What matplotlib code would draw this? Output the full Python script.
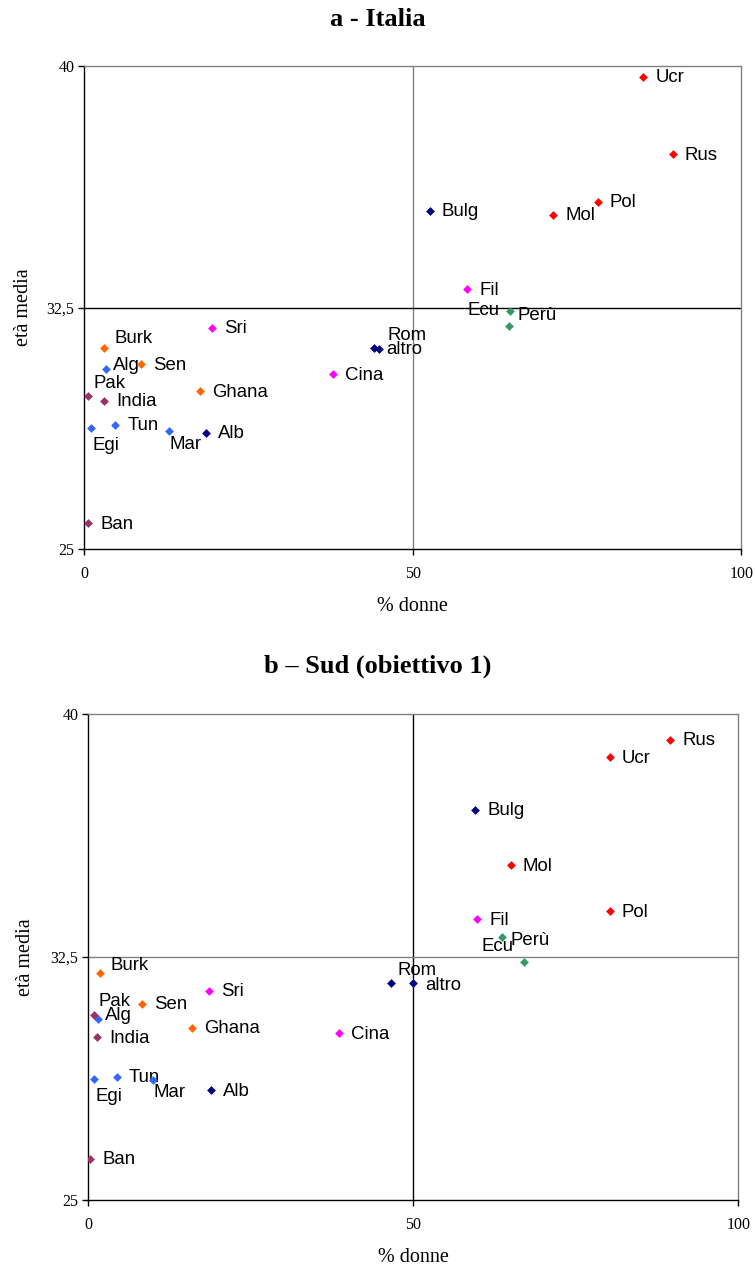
import matplotlib
matplotlib.use("Agg")
import matplotlib.pyplot as plt
from matplotlib.ticker import FixedLocator, FixedFormatter

# colour per area of origin
palette = {
    "est": "#FF0000",
    "balc": "#000080",
    "asia": "#FF00FF",
    "lat": "#339966",
    "afr_occ": "#FF6600",
    "maghreb": "#3366FF",
    "sub": "#993366",
}

# a - Italia
names_a = ["Ucr", "Rus", "Pol", "Mol", "Bulg", "Fil", "Perù", "Ecu", "Rom", "altro",
           "Cina", "Sri", "Burk", "Alg", "Sen", "Pak", "India", "Ghana", "Tun", "Egi",
           "Mar", "Alb", "Ban"]
donne_a = [85.1, 89.6, 78.2, 71.4, 52.6, 58.3, 64.8, 64.6, 44.1, 44.9,
           37.8, 19.5, 3.0, 3.3, 8.7, 0.6, 3.0, 17.6, 4.7, 1.0,
           12.9, 18.5, 0.6]
eta_a = [39.68, 37.27, 35.79, 35.39, 35.51, 33.07, 32.40, 31.92, 31.26, 31.21,
         30.43, 31.87, 31.25, 30.59, 30.75, 29.77, 29.61, 29.90, 28.87, 28.76,
         28.67, 28.62, 25.81]

# b - Sud (obiettivo 1)
names_b = ["Rus", "Ucr", "Bulg", "Mol", "Pol", "Fil", "Perù", "Ecu", "Rom", "altro",
           "Cina", "Sri", "Burk", "Alg", "Sen", "Pak", "India", "Ghana", "Tun", "Egi",
           "Mar", "Alb", "Ban"]
donne_b = [89.5, 80.2, 59.5, 65.0, 80.2, 59.8, 63.6, 67.0, 46.5, 50.0,
           38.6, 18.6, 1.8, 1.5, 8.2, 0.8, 1.4, 16.0, 4.4, 0.8,
           10.0, 18.8, 0.3]
eta_b = [39.20, 38.67, 37.05, 35.33, 33.91, 33.66, 33.12, 32.34, 31.70, 31.69,
         30.14, 31.45, 32.00, 30.59, 31.05, 30.71, 30.02, 30.32, 28.81, 28.72,
         28.71, 28.39, 26.27]

group = {
    "Ucr": "est", "Rus": "est", "Pol": "est", "Mol": "est",
    "Bulg": "balc", "Rom": "balc", "altro": "balc", "Alb": "balc",
    "Fil": "asia", "Cina": "asia", "Sri": "asia",
    "Perù": "lat", "Ecu": "lat",
    "Burk": "afr_occ", "Sen": "afr_occ", "Ghana": "afr_occ",
    "Alg": "maghreb", "Tun": "maghreb", "Egi": "maghreb", "Mar": "maghreb",
    "Pak": "sub", "India": "sub", "Ban": "sub",
}

# label placement (offset in pixels, horizontal alignment)
lab_a = {"Perù": (8, -5, "left"), "Ecu": (-9, 16, "right"), "Rom": (13, 12, "left"),
         "altro": (7, 0, "left"), "Burk": (10, 9, "left"), "Alg": (7, 4, "left"),
         "Pak": (5, 12, "left"), "Egi": (2, -17, "left"), "Mar": (0, -14, "left")}
lab_b = {"Perù": (9, -4, "left"), "Ecu": (-10, 16, "right"), "Rom": (7, 12, "left"),
         "altro": (12, -2, "left"), "Burk": (10, 8, "left"), "Alg": (7, 3, "left"),
         "Pak": (5, 13, "left"), "Egi": (2, -17, "left"), "Mar": (0, -13, "left")}

serif = "Liberation Serif"
sans = "Liberation Sans"

fig = plt.figure(figsize=(7.55, 12.74), dpi=100)
ax_a = fig.add_axes([0.1117, 0.569, 0.870, 0.379])
ax_b = fig.add_axes([0.117, 0.0581, 0.861, 0.3815])


def draw(ax, names, xs, ys, labels, vcol, hcol, ylab_x):
    ax.set_xlim(0, 100)
    ax.set_ylim(25, 40)
    ax.axvline(50, color=vcol, lw=1, zorder=1)
    ax.axhline(32.5, color=hcol, lw=1, zorder=1)
    for n, x, y in zip(names, xs, ys):
        ax.scatter(x, y, marker="D", s=20, color=palette[group[n]], zorder=3, linewidths=0)
        dx, dy, ha = labels.get(n, (12, -1, "left"))
        ax.annotate(n, (x, y), xytext=(dx, dy), textcoords="offset pixels",
                    ha=ha, va="center", fontsize=13.4, family=sans, color="black")
    ax.xaxis.set_major_locator(FixedLocator([0, 50, 100]))
    ax.yaxis.set_major_locator(FixedLocator([25, 32.5, 40]))
    ax.yaxis.set_major_formatter(FixedFormatter(["25", "32,5", "40"]))
    ax.tick_params(direction="out", length=4, width=1, labelsize=11.5, pad=3)
    ax.tick_params(axis="x", pad=8)
    for t in ax.get_xticklabels() + ax.get_yticklabels():
        t.set_family(serif)
    for s in ("top", "right"):
        ax.spines[s].set_color("#808080")
    for s in ax.spines.values():
        s.set_linewidth(1)
    ax.set_xlabel("% donne", family=serif, fontsize=14.5, va="center")
    ax.set_ylabel("età media", family=serif, fontsize=14.5, va="center")
    ax.xaxis.set_label_coords(0.5, -0.118)
    ax.yaxis.set_label_coords(ylab_x, 0.5)


draw(ax_a, names_a, donne_a, eta_a, lab_a, "#808080", "black", -0.093)
draw(ax_b, names_b, donne_b, eta_b, lab_b, "black", "#808080", -0.097)

fig.text(0.5, 1 - 20 / 1274, "a - Italia", ha="center", va="center",
         family=serif, fontweight="bold", fontsize=19)
fig.text(0.5, 1 - 666 / 1274, "b – Sud (obiettivo 1)", ha="center", va="center",
         family=serif, fontweight="bold", fontsize=19)

fig.savefig("out.png", dpi=100)
